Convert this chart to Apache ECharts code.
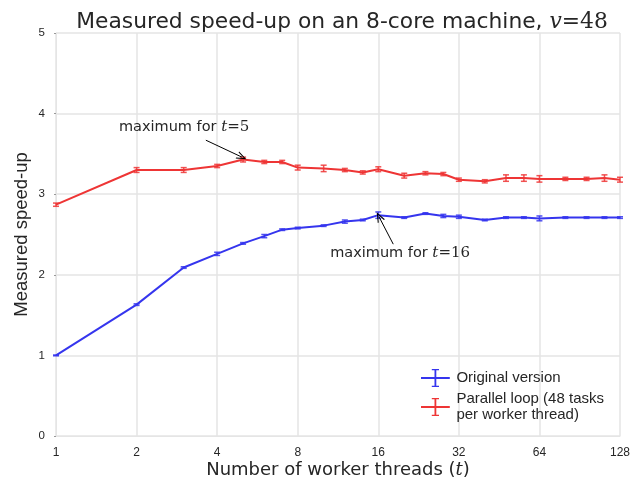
<!DOCTYPE html>
<html>
<head>
<meta charset="utf-8">
<script src="https://cdn.jsdelivr.net/npm/echarts@6/dist/echarts.min.js"></script>
<style>
  html, body { margin: 0; padding: 0; background: #fff; }
  #chart { width: 632px; height: 481px; }
</style>
</head>
<body>
<div id="chart"></div>
<script>
// number of worker threads
const threads = [1, 2, 3, 4, 5, 6, 7, 8, 10, 12, 14, 16, 20, 24, 28, 32, 40, 48, 56, 64, 80, 96, 112, 128]
// speed-up of the original version and its error
const originalSpeedup = [1.00, 1.63, 2.09, 2.26, 2.39, 2.48, 2.56, 2.58, 2.61, 2.66, 2.68, 2.74, 2.71, 2.76, 2.73, 2.72, 2.68, 2.71, 2.71, 2.70, 2.71, 2.71, 2.71, 2.71]
const originalError = [0.005, 0.01, 0.01, 0.02, 0.01, 0.02, 0.01, 0.01, 0.01, 0.02, 0.01, 0.04, 0.01, 0.01, 0.02, 0.02, 0.01, 0.01, 0.01, 0.03, 0.01, 0.01, 0.01, 0.01]
// speed-up of the parallel loop version and its error
const parallelSpeedup = [2.87, 3.30, 3.30, 3.35, 3.43, 3.40, 3.40, 3.33, 3.32, 3.30, 3.27, 3.31, 3.23, 3.26, 3.25, 3.18, 3.16, 3.20, 3.20, 3.19, 3.19, 3.19, 3.20, 3.18]
const parallelError = [0.02, 0.03, 0.03, 0.02, 0.03, 0.02, 0.02, 0.03, 0.04, 0.02, 0.02, 0.03, 0.03, 0.02, 0.02, 0.02, 0.02, 0.04, 0.04, 0.04, 0.02, 0.02, 0.04, 0.03]
const xTicks = [1, 2, 4, 8, 16, 32, 64, 128]
const yTicks = [0, 1, 2, 3, 4, 5]

const blue = '#3535ee'
const red = '#ee3535'
const mathFont = '"DejaVu Serif", serif'
const sans = '"Liberation Sans", Arial, sans-serif'

function lineData (ys) {
  return threads.map((t, i) => [t, ys[i]])
}
function errData (ys, es) {
  return threads.map((t, i) => [t, ys[i] - es[i], ys[i] + es[i]])
}

// error bars drawn through the axis scales
function errorBars (color) {
  return function (params, api) {
    const lo = api.coord([api.value(0), api.value(1)])
    const hi = api.coord([api.value(0), api.value(2)])
    const w = 3
    const style = { stroke: color, lineWidth: 1.5, opacity: 0.85 }
    return {
      type: 'group',
      children: [
        { type: 'line', shape: { x1: lo[0], y1: lo[1], x2: hi[0], y2: hi[1] }, style: style },
        { type: 'line', shape: { x1: lo[0] - w, y1: lo[1], x2: lo[0] + w, y2: lo[1] }, style: style },
        { type: 'line', shape: { x1: hi[0] - w, y1: hi[1], x2: hi[0] + w, y2: hi[1] }, style: style }
      ]
    }
  }
}

const legendIcon = 'path://M0,9h32v2H0z M15,1h2v18h-2z M12,0h8v1.5h-8z M12,18.5h8V20h-8z'
const arrowHead = 'path://M0,10 L5,0 L10,10 L8.6,10 L5,2.8 L1.4,10 Z'

const rich = {
  n: { fontFamily: '"DejaVu Sans", sans-serif', fontSize: 14.5, color: '#262626' },
  i: { fontFamily: mathFont, fontStyle: 'italic', fontSize: 15, color: '#262626' },
  m: { fontFamily: mathFont, fontSize: 15, color: '#262626' }
}

const chart = echarts.init(document.getElementById('chart'))
const option = {
  animation: false,
  backgroundColor: '#ffffff',
  title: {
    text: 'Measured speed-up on an 8-core machine, {i|v}{m|=48}',
    left: 337,
    textAlign: 'center',
    top: 6,
    textStyle: {
      fontFamily: '"DejaVu Sans", sans-serif',
      fontSize: 21.8,
      fontWeight: 'normal',
      color: '#262626',
      rich: {
        i: { fontFamily: mathFont, fontStyle: 'italic', fontSize: 21.8, color: '#262626' },
        m: { fontFamily: mathFont, fontSize: 21.8, color: '#262626' }
      }
    }
  },
  grid: { left: 56, right: 12, top: 33, bottom: 45, outerBoundsMode: 'none' },
  legend: {
    data: [
      { name: 'Original version', icon: legendIcon, itemStyle: { color: blue } },
      { name: 'Parallel loop (48 tasks\nper worker thread)', icon: legendIcon, itemStyle: { color: red } }
    ],
    orient: 'vertical',
    left: 416,
    top: 364,
    itemWidth: 32,
    itemHeight: 18,
    itemGap: 4,
    textStyle: { fontFamily: sans, fontSize: 15, color: '#262626', lineHeight: 16 }
  },
  xAxis: {
    type: 'log',
    logBase: 2,
    min: 1,
    max: 128,
    name: 'Number of worker threads ({i|t})',
    nameLocation: 'middle',
    nameGap: 25,
    nameMoveOverlap: false,
    nameTextStyle: {
      fontFamily: '"DejaVu Sans", sans-serif',
      fontSize: 18,
      color: '#262626',
      rich: { i: { fontFamily: mathFont, fontStyle: 'italic', fontSize: 18, color: '#262626' } }
    },
    axisLine: { show: true, lineStyle: { color: '#e5e5e5' } },
    axisTick: { show: false },
    axisLabel: {
      fontFamily: sans,
      fontSize: 12,
      color: '#262626',
      margin: 11,
      formatter: v => (xTicks.indexOf(Math.round(v)) >= 0 ? String(Math.round(v)) : '')
    },
    splitLine: { show: true, lineStyle: { color: '#e5e5e5', width: 1.5 } }
  },
  yAxis: {
    type: 'value',
    min: yTicks[0],
    max: yTicks[yTicks.length - 1],
    interval: 1,
    name: 'Measured speed-up',
    nameLocation: 'middle',
    nameGap: 25,
    nameMoveOverlap: false,
    nameTextStyle: { fontFamily: sans, fontSize: 18.5, color: '#262626' },
    axisLine: { show: true, lineStyle: { color: '#e5e5e5' } },
    axisTick: { show: true, length: 2, lineStyle: { color: '#999' } },
    axisLabel: { fontFamily: sans, fontSize: 11.5, color: '#262626', margin: 11 },
    splitLine: { show: true, lineStyle: { color: '#e5e5e5', width: 1.5 } }
  },
  series: [
    {
      name: 'Original version',
      type: 'line',
      data: lineData(originalSpeedup),
      showSymbol: false,
      lineStyle: { color: blue, width: 2 },
      itemStyle: { color: blue },
      z: 3,
      markPoint: {
        silent: true,
        symbol: 'circle',
        symbolSize: 0,
        label: { show: true, position: 'inside', formatter: '{n|maximum for }{i|t}{m|=16}', rich: rich },
        data: [{ coord: [19.3, 2.27] }]
      },
      markLine: {
        silent: true,
        symbol: ['none', arrowHead],
        symbolSize: [8, 10],
        label: { show: false },
        lineStyle: { color: '#000', width: 1, type: 'solid' },
        data: [[{ coord: [18.2, 2.38] }, { coord: [16.1, 2.72] }]]
      }
    },
    {
      name: 'Parallel loop (48 tasks\nper worker thread)',
      type: 'line',
      data: lineData(parallelSpeedup),
      showSymbol: false,
      lineStyle: { color: red, width: 2 },
      itemStyle: { color: red },
      z: 3,
      markPoint: {
        silent: true,
        symbol: 'circle',
        symbolSize: 0,
        label: { show: true, position: 'inside', formatter: '{n|maximum for }{i|t}{m|=5}', rich: rich },
        data: [{ coord: [3.01, 3.83] }]
      },
      markLine: {
        silent: true,
        symbol: ['none', arrowHead],
        symbolSize: [8, 10],
        label: { show: false },
        lineStyle: { color: '#000', width: 1, type: 'solid' },
        data: [[{ coord: [3.63, 3.67] }, { coord: [4.95, 3.46] }]]
      }
    },
    {
      name: 'originalErr',
      type: 'custom',
      data: errData(originalSpeedup, originalError),
      renderItem: errorBars(blue),
      encode: { x: 0, y: [1, 2] },
      silent: true,
      z: 4
    },
    {
      name: 'parallelErr',
      type: 'custom',
      data: errData(parallelSpeedup, parallelError),
      renderItem: errorBars(red),
      encode: { x: 0, y: [1, 2] },
      silent: true,
      z: 4
    }
  ]
}
chart.setOption(option)
</script>
</body>
</html>
